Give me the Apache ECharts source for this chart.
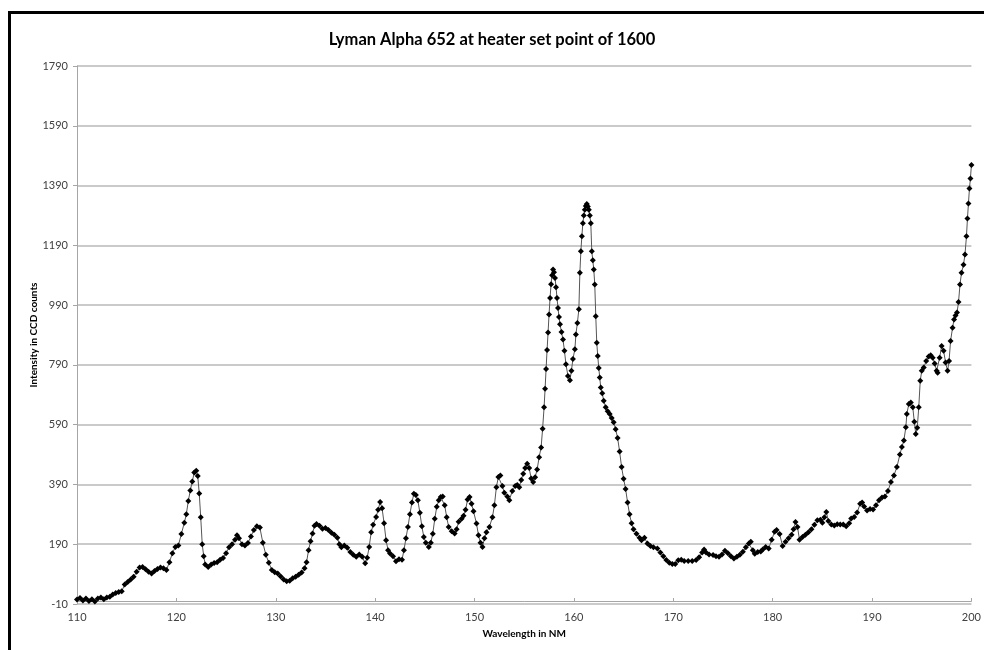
<!DOCTYPE html>
<html>
<head>
<meta charset="utf-8">
<script src="https://cdn.jsdelivr.net/npm/echarts@6/dist/echarts.min.js"></script>
<style>
html,body{margin:0;padding:0;background:#fff;overflow:hidden;}
#frame{position:absolute;left:8px;top:11px;width:1000px;height:700px;border:3px solid #000;box-sizing:border-box;}
#chart{position:absolute;left:0;top:0;width:984px;height:650px;}
</style>
</head>
<body>
<div id="frame"></div>
<div id="chart"></div>
<script>
const titleText = "Lyman Alpha 652 at heater set point of 1600";
const xAxisName = "Wavelength in NM";
const yAxisName = "Intensity in CCD counts";
const xTicks = [110, 120, 130, 140, 150, 160, 170, 180, 190, 200];
const yTicks = [-10, 190, 390, 590, 790, 990, 1190, 1390, 1590, 1790];

const wavelength = [
110.0,110.3,110.6,110.9,111.2,111.5,111.8,112.1,112.4,112.7,113.0,113.3,113.6,113.9,114.2,114.5,114.8,115.1,115.4,115.7,
116.0,116.3,116.6,116.9,117.2,117.5,117.8,118.1,118.4,118.7,119.0,119.3,119.6,119.9,120.2,120.5,120.8,121.0,121.2,121.4,
121.6,121.8,122.0,122.15,122.3,122.45,122.6,122.75,122.9,123.2,123.5,123.8,124.1,124.4,124.7,125.0,125.3,125.6,125.9,126.1,
126.3,126.6,126.9,127.2,127.5,127.8,128.1,128.4,128.7,129.0,129.3,129.6,129.9,130.2,130.5,130.8,131.1,131.4,131.7,132.0,
132.3,132.6,132.9,133.1,133.3,133.5,133.7,133.9,134.1,134.4,134.7,135.0,135.3,135.6,135.9,136.2,136.4,136.6,136.9,137.2,
137.5,137.8,138.1,138.4,138.7,139.0,139.2,139.4,139.6,139.8,140.1,140.3,140.5,140.7,140.9,141.1,141.3,141.5,141.8,142.1,
142.4,142.7,142.9,143.1,143.3,143.5,143.7,143.9,144.1,144.3,144.5,144.7,144.9,145.1,145.4,145.6,145.8,146.0,146.2,146.4,
146.6,146.8,147.0,147.2,147.4,147.7,148.0,148.2,148.4,148.7,148.9,149.1,149.3,149.5,149.7,149.9,150.2,150.4,150.6,150.8,
151.0,151.2,151.5,151.8,152.0,152.2,152.4,152.6,152.8,153.0,153.3,153.5,153.8,154.1,154.3,154.5,154.7,154.9,155.1,155.3,
155.5,155.7,155.9,156.1,156.3,156.5,156.7,156.85,157.0,157.1,157.2,157.3,157.4,157.5,157.6,157.7,157.8,157.9,158.0,158.1,
158.2,158.3,158.4,158.5,158.6,158.75,158.9,159.05,159.2,159.4,159.6,159.75,159.9,160.1,160.2,160.35,160.5,160.6,160.7,160.8,
160.9,161.0,161.1,161.2,161.3,161.4,161.5,161.6,161.7,161.8,161.9,162.0,162.1,162.2,162.3,162.4,162.5,162.6,162.7,162.85,
163.0,163.2,163.4,163.6,163.8,164.0,164.2,164.4,164.6,164.8,165.0,165.2,165.4,165.6,165.8,166.0,166.3,166.6,166.8,167.1,
167.4,167.7,168.0,168.4,168.7,169.0,169.3,169.6,169.9,170.2,170.5,170.8,171.1,171.5,171.9,172.3,172.6,172.9,173.1,173.3,
173.6,174.0,174.3,174.6,174.9,175.2,175.5,175.8,176.1,176.4,176.7,177.0,177.3,177.6,177.8,178.0,178.2,178.5,178.8,179.0,
179.3,179.6,179.9,180.2,180.4,180.7,181.0,181.3,181.6,181.9,182.1,182.3,182.5,182.7,183.0,183.3,183.6,183.9,184.2,184.5,
184.8,185.0,185.2,185.4,185.6,185.9,186.2,186.5,186.8,187.1,187.4,187.7,187.9,188.2,188.5,188.8,189.0,189.2,189.5,189.8,
190.1,190.4,190.7,191.0,191.3,191.6,191.9,192.2,192.5,192.8,193.0,193.2,193.4,193.5,193.7,193.9,194.1,194.25,194.4,194.55,
194.7,194.85,195.0,195.2,195.45,195.7,195.9,196.1,196.3,196.5,196.6,196.8,197.0,197.2,197.4,197.6,197.75,197.9,198.1,198.25,
198.4,198.55,198.7,198.85,199.0,199.2,199.35,199.5,199.6,199.7,199.8,199.9,200.0
];

const intensity = [
5,10,2,8,0,6,-2,8,12,6,12,14,22,27,30,33,55,64,72,81,
98,112,114,106,98,92,100,107,112,110,104,130,160,181,186,224,262,290,335,370,
400,430,436,418,360,280,190,150,122,114,122,127,130,138,144,160,180,190,205,220,
210,190,186,194,216,238,250,246,195,155,128,104,96,92,82,72,66,68,76,81,
88,95,110,130,170,200,226,252,258,252,242,244,238,228,222,212,190,180,186,178,
164,155,148,156,148,126,145,181,230,255,281,305,331,310,260,203,170,159,150,133,
140,138,170,210,248,290,330,359,355,337,295,250,214,195,181,195,225,275,315,337,
348,350,320,280,248,233,226,240,265,275,285,305,340,348,325,300,259,220,195,181,
210,230,248,280,320,381,415,420,385,362,350,337,368,385,388,381,405,426,445,459,
445,410,398,414,440,481,514,576,648,710,776,840,898,959,1014,1060,1090,1109,1100,1081,
1050,1014,980,950,926,900,875,837,792,753,739,770,810,842,892,930,976,1098,1170,1220,
1264,1290,1309,1322,1328,1320,1309,1290,1264,1170,1140,1109,1059,953,864,820,780,748,714,695,
670,648,635,626,612,598,575,545,500,448,409,375,330,290,260,240,225,212,203,212,
192,184,180,176,162,150,137,128,124,124,136,138,134,134,134,137,146,162,172,162,
156,154,150,148,156,168,160,150,142,148,155,165,180,192,198,170,158,164,166,172,
181,176,205,232,238,224,184,198,210,222,240,264,248,205,214,222,230,240,255,270,
272,262,280,298,268,256,253,257,256,256,250,260,276,281,296,325,330,316,303,308,
306,320,337,346,350,368,398,420,448,490,515,537,581,626,659,664,648,600,559,580,
648,737,770,781,803,818,822,814,795,770,764,814,853,837,798,770,803,870,914,942,
955,965,1000,1059,1098,1125,1159,1220,1280,1330,1380,1414,1459
];

const seriesData = wavelength.map((w, i) => [w, intensity[i]]);

const chart = echarts.init(document.getElementById('chart'), null, {renderer: 'canvas'});
const labelFont = 'Lato, "Open Sans", sans-serif';
chart.setOption({
  animation: false,
  backgroundColor: 'transparent',
  title: {
    text: titleText,
    left: 'center',
    top: 26,
    textStyle: {fontFamily: labelFont, fontSize: 16.5, fontWeight: 'bold', color: '#000'}
  },
  grid: {left: 77, right: 12, top: 66, bottom: 46, containLabel: false},
  xAxis: {
    type: 'value',
    min: xTicks[0],
    max: xTicks[xTicks.length - 1],
    interval: 10,
    name: xAxisName,
    nameLocation: 'middle',
    nameGap: 25,
    nameMoveOverlap: false,
    nameTextStyle: {fontFamily: labelFont, fontSize: 10, fontWeight: 'bold', color: '#000'},
    axisLine: {show: true, lineStyle: {color: '#a6a6a6', width: 1}},
    axisTick: {show: true, inside: true, length: 3, lineStyle: {color: '#a6a6a6'}},
    axisLabel: {fontFamily: labelFont, fontSize: 11, color: '#404040', margin: 8, formatter: v => String(v)},
    splitLine: {show: false}
  },
  yAxis: {
    type: 'value',
    min: yTicks[0],
    max: yTicks[yTicks.length - 1],
    interval: 200,
    name: yAxisName,
    nameLocation: 'middle',
    nameGap: 43,
    nameMoveOverlap: false,
    nameTextStyle: {fontFamily: labelFont, fontSize: 10, fontWeight: 'bold', color: '#000', verticalAlign: 'middle'},
    axisLine: {show: true, lineStyle: {color: '#a6a6a6', width: 1}},
    axisTick: {show: true, inside: false, length: 4, lineStyle: {color: '#a6a6a6'}},
    axisLabel: {fontFamily: labelFont, fontSize: 11, color: '#404040', margin: 9, formatter: v => String(v)},
    splitLine: {show: true, lineStyle: {color: '#b8b8b8', width: 1.5}}
  },
  series: [{
    type: 'line',
    data: seriesData,
    symbol: 'diamond',
    symbolSize: 6,
    showAllSymbol: true,
    lineStyle: {color: '#555', width: 1},
    itemStyle: {color: '#000'},
    smooth: false
  }]
});
</script>
</body>
</html>
